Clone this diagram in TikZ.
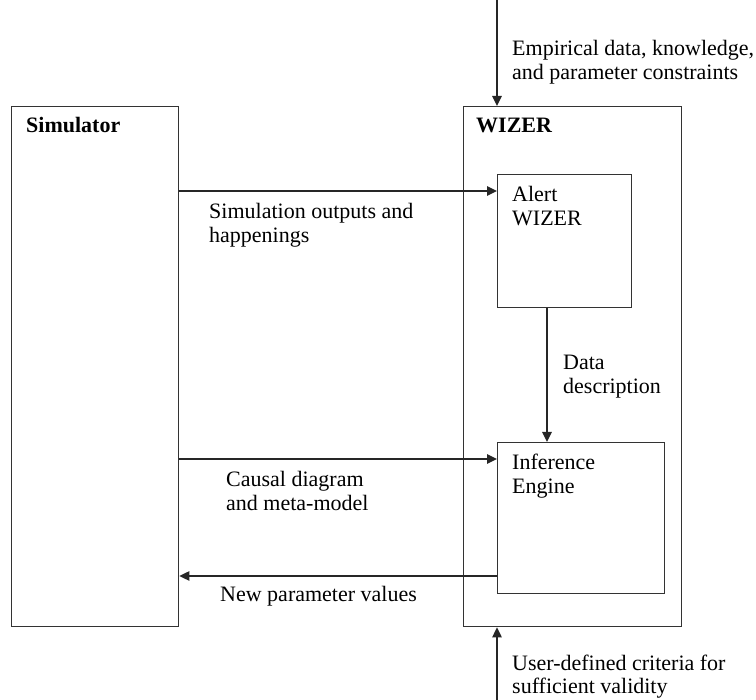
\documentclass[tikz,border=0pt]{standalone}
\usepackage{fontspec}
\setmainfont{Liberation Serif}
\usetikzlibrary{arrows.meta}
\begin{document}
\begin{tikzpicture}[x=1pt,y=-1pt,
  box/.style={draw=black!80,line width=1.4pt,rectangle,inner sep=0pt,anchor=north west},
  lbl/.style={anchor=base west,inner sep=0pt,align=left,font=\fontsize{22}{24}\selectfont},
  blbl/.style={lbl,font=\fontsize{22}{24}\selectfont\bfseries},
  arr/.style={draw=black!85,line width=1.4pt,-{Triangle[length=10pt,width=9.5pt]}}]
\useasboundingbox (0,0) rectangle (756,700);
% boxes
\node[box,minimum width=167pt,minimum height=520pt] (sim) at (11,106) {};
\node[box,minimum width=218pt,minimum height=520pt] (wizer) at (463,106) {};
\node[box,minimum width=134pt,minimum height=133pt] (alert) at (497,174) {};
\node[box,minimum width=167pt,minimum height=151pt] (infer) at (497,442) {};
% titles (multi-line nodes are placed by the baseline of their last line)
\node[blbl] (simt) at (26,133) {Simulator};
\node[blbl] (wizt) at (476,133) {WIZER};
\node[lbl] (alertt) at (512,226) {Alert\\WIZER};
\node[lbl] (infert) at (512,494) {Inference\\Engine};
% free ends
\coordinate (topin) at (497,0);
\coordinate (botin) at (497,700);
% connectors
\draw[arr] (topin) -- (wizer.north -| alert.west);
\draw[arr] (botin) -- (wizer.south -| alert.west);
\draw[arr] (sim.east |- 0,191) -- (alert.west |- 0,191);
\draw[arr] (sim.east |- 0,459) -- (infer.west |- 0,459);
\draw[arr] (infer.west |- 0,576) -- (sim.east |- 0,576);
\draw[arr] (alert.south -| 547,0) -- (infer.north -| 547,0);
% connector labels
\node[lbl] (l1) at (512,80) {Empirical data, knowledge,\\and parameter constraints};
\node[lbl] (l2) at (209,243) {Simulation outputs and\\happenings};
\node[lbl] (l3) at (563,394) {Data\\description};
\node[lbl] (l4) at (226,511) {Causal diagram\\and meta-model};
\node[lbl] (l5) at (220,602) {New parameter values};
\node[lbl] (l6) at (512,694) {User-defined criteria for\\sufficient validity};
\end{tikzpicture}
\end{document}
